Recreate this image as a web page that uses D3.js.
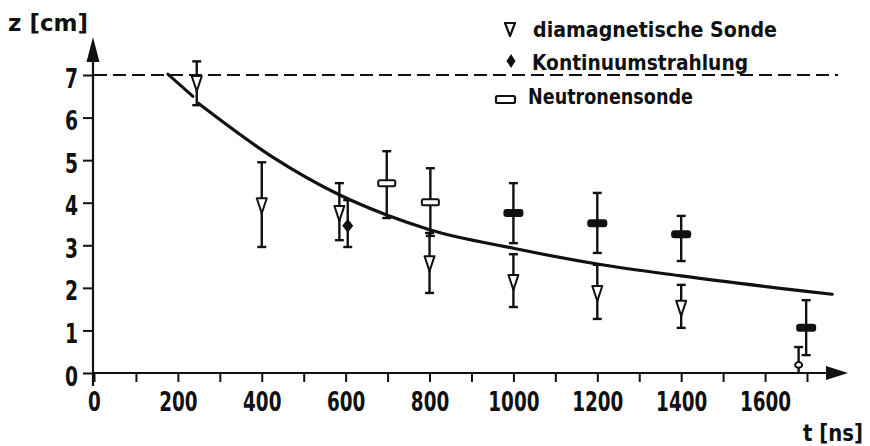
<!DOCTYPE html>
<html>
<head>
<meta charset="utf-8">
<script src="https://cdn.jsdelivr.net/npm/d3@7"></script>
<style>
  html, body { margin: 0; padding: 0; background: #fff; }
  svg { display: block; }
  text { font-family: "Liberation Sans Narrow", "DejaVu Sans Condensed", "Liberation Sans", sans-serif; fill: #111; }
</style>
</head>
<body>
<svg id="chart" width="870" height="446"></svg>
<script>
// Diamagnetische Sonde: Zeit [ns], Position z [cm], Fehlerbalken unten/oben
const diaT  = [245, 400, 585, 800, 1000, 1200, 1400];
const diaZ  = [6.81, 3.94, 3.76, 2.58, 2.14, 1.88, 1.53];
const diaLo = [6.29, 2.96, 3.12, 1.88, 1.55, 1.27, 1.06];
const diaHi = [7.32, 4.95, 4.46, 3.29, 2.79, 2.54, 2.07];

// Kontinuumstrahlung
const kontT  = [605];
const kontZ  = [3.46];
const kontLo = [2.96];
const kontHi = [4.06];

// Neutronensonde
const neuT  = [698, 802, 1000, 1200, 1400, 1698];
const neuZ  = [4.46, 4.01, 3.76, 3.52, 3.26, 1.06];
const neuLo = [3.64, 3.22, 3.05, 2.82, 2.63, 0.42];
const neuHi = [5.21, 4.81, 4.46, 4.23, 3.69, 1.71];

// Einzelpunkt nahe der Achse
const randT  = [1680];
const randZ  = [0.19];
const randLo = [0];
const randHi = [0.61];

// Ausgleichskurve (Anfangsstück und Hauptverlauf)
const startT = [176, 236];
const startZ = [7.02, 6.5];
const fitT = [248, 426, 586, 698, 802, 1000, 1200, 1400, 1760];
const fitZ = [6.34, 5.07, 4.18, 3.71, 3.36, 2.93, 2.56, 2.28, 1.85];

// Ausgangslage
const z0 = 7;

// Achsen
const xTicks = d3.range(0, 1701, 100);
const xLabels = [0, 200, 400, 600, 800, 1000, 1200, 1400, 1600];
const yTicks = [0, 1, 2, 3, 4, 5, 6, 7];

const legendLabels = ["diamagnetische Sonde", "Kontinuumstrahlung", "Neutronensonde"];

const svg = d3.select("#chart");
const ink = "#111";

const x = d3.scaleLinear().domain([0, 1700]).range([94, 807]);
const y = d3.scaleLinear().domain([0, 7]).range([373, 75]);

const zip = (t, z, lo, hi) => t.map((v, i) => ({ t: v, z: z[i], lo: lo[i], hi: hi[i] }));
const dia = zip(diaT, diaZ, diaLo, diaHi);
const kont = zip(kontT, kontZ, kontLo, kontHi);
const neu = zip(neuT, neuZ, neuLo, neuHi);
const rand = zip(randT, randZ, randLo, randHi);

// Gestrichelte Linie bei z0
svg.append("line")
  .attr("x1", x(0)).attr("x2", 838)
  .attr("y1", y(z0)).attr("y2", y(z0))
  .attr("stroke", ink).attr("stroke-width", 2)
  .attr("stroke-dasharray", "13,6");

// x-Achse
const xAxis = d3.axisBottom(x)
  .tickValues(xTicks)
  .tickSize(9)
  .tickFormat(d => xLabels.includes(d) ? d : "");
const gx = svg.append("g").attr("transform", `translate(0,${y(0)})`).call(xAxis);
gx.select(".domain").remove();
gx.selectAll(".tick line").attr("stroke", ink).attr("stroke-width", 2);
gx.selectAll(".tick text")
  .attr("y", 38).attr("dy", 0)
  .style("font-size", "26px").style("font-weight", "bold")
  .attr("fill", ink)
  .each(function () {
    const s = this.textContent;
    if (s) d3.select(this).attr("textLength", s.length * 12.8).attr("lengthAdjust", "spacingAndGlyphs");
  });

// y-Achse
const yAxis = d3.axisLeft(y).tickValues(yTicks).tickSize(10).tickPadding(5).tickFormat(d3.format("d"));
const gy = svg.append("g").attr("transform", `translate(${x(0) - 1},0)`).call(yAxis);
gy.select(".domain").remove();
gy.selectAll(".tick line").attr("stroke", ink).attr("stroke-width", 2);
gy.selectAll(".tick text")
  .attr("dy", 0).attr("y", 12)
  .style("font-size", "26px").style("font-weight", "bold")
  .attr("fill", ink)
  .attr("textLength", 13).attr("lengthAdjust", "spacingAndGlyphs");

// Achsenlinien mit Pfeilspitzen
const ax0 = x(0) - 1;
svg.append("line").attr("x1", ax0).attr("x2", 830).attr("y1", y(0)).attr("y2", y(0))
  .attr("stroke", ink).attr("stroke-width", 2.2);
svg.append("path").attr("d", "M826,366 L848,373 L826,380 Z").attr("fill", ink);
svg.append("line").attr("x1", ax0).attr("x2", ax0).attr("y1", 386).attr("y2", 56)
  .attr("stroke", ink).attr("stroke-width", 2.2);
svg.append("path").attr("d", `M${ax0 - 6.5},62 L${ax0},37 L${ax0 + 6.5},62 Z`).attr("fill", ink);

// Achsentitel
svg.append("text").attr("x", 8).attr("y", 31).text("z [cm]")
  .style("font-size", "23px").style("font-weight", "bold")
  .attr("textLength", 80).attr("lengthAdjust", "spacingAndGlyphs");
svg.append("text").attr("x", 803).attr("y", 441).text("t [ns]")
  .style("font-size", "23px").style("font-weight", "bold")
  .attr("textLength", 60).attr("lengthAdjust", "spacingAndGlyphs");

// Ausgleichskurve
const line = d3.line().x(d => x(d[0])).y(d => y(d[1]));
svg.append("path")
  .attr("d", line(startT.map((t, i) => [t, startZ[i]])))
  .attr("fill", "none").attr("stroke", ink).attr("stroke-width", 3).attr("stroke-linecap", "round");
svg.append("path")
  .attr("d", line.curve(d3.curveMonotoneX)(fitT.map((t, i) => [t, fitZ[i]])))
  .attr("fill", "none").attr("stroke", ink).attr("stroke-width", 3.2).attr("stroke-linecap", "round");

// Fehlerbalken
function errorBars(data) {
  const g = svg.append("g").attr("stroke", ink).attr("stroke-width", 2.4);
  data.forEach(d => {
    g.append("line").attr("x1", x(d.t)).attr("x2", x(d.t)).attr("y1", y(d.lo)).attr("y2", y(d.hi));
    [d.lo, d.hi].forEach(v => {
      if (v > 0) g.append("line").attr("x1", x(d.t) - 4.5).attr("x2", x(d.t) + 4.5).attr("y1", y(v)).attr("y2", y(v));
    });
  });
}
errorBars(dia); errorBars(kont); errorBars(neu); errorBars(rand);

// Symbole
const triPath = "M-5,-7 L5,-7 L0,8 Z";
const diamondPath = "M0,-7 L5.5,0 L0,7 L-5.5,0 Z";

svg.append("g").selectAll("path").data(dia).join("path")
  .attr("transform", d => `translate(${x(d.t)},${y(d.z)})`)
  .attr("d", triPath).attr("fill", "#fff").attr("stroke", ink).attr("stroke-width", 2).attr("stroke-linejoin", "round");

svg.append("g").selectAll("path").data(kont).join("path")
  .attr("transform", d => `translate(${x(d.t)},${y(d.z)})`)
  .attr("d", diamondPath).attr("fill", ink);

svg.append("g").selectAll("rect").data(neu).join("rect")
  .each(function (d) {
    const open = d.t < 900;
    const w = open ? 17 : 20, h = open ? 6 : 8;
    d3.select(this)
      .attr("x", x(d.t) - w / 2).attr("y", y(d.z) - h / 2)
      .attr("width", w).attr("height", h).attr("rx", open ? 1.5 : 3)
      .attr("fill", open ? "#fff" : ink)
      .attr("stroke", ink).attr("stroke-width", open ? 2 : 0);
  });

svg.append("g").selectAll("ellipse").data(rand).join("ellipse")
  .attr("cx", d => x(d.t)).attr("cy", d => y(d.z))
  .attr("rx", 3.5).attr("ry", 2.8)
  .attr("fill", "#fff").attr("stroke", ink).attr("stroke-width", 2);

// Legende
const lg = svg.append("g");
const legendRows = [37, 70, 104];
const legendWidths = [244, 216, 165];
const legendX = [533, 532, 528];
legendLabels.forEach((s, i) => {
  lg.append("text").attr("x", legendX[i]).attr("y", legendRows[i]).text(s)
    .style("font-size", "21px").style("font-weight", "bold")
    .attr("textLength", legendWidths[i]).attr("lengthAdjust", "spacingAndGlyphs");
});
lg.append("path").attr("transform", "translate(510,29)").attr("d", "M-5,-6 L5,-6 L0,7 Z")
  .attr("fill", "#fff").attr("stroke", ink).attr("stroke-width", 2.2).attr("stroke-linejoin", "round");
lg.append("path").attr("transform", "translate(511,61)").attr("d", "M0,-7 L4.5,0 L0,7 L-4.5,0 Z").attr("fill", ink);
lg.append("rect").attr("x", 496).attr("y", 96).attr("width", 19).attr("height", 7).attr("rx", 1.5)
  .attr("fill", "#fff").attr("stroke", ink).attr("stroke-width", 2.2);
</script>
</body>
</html>
